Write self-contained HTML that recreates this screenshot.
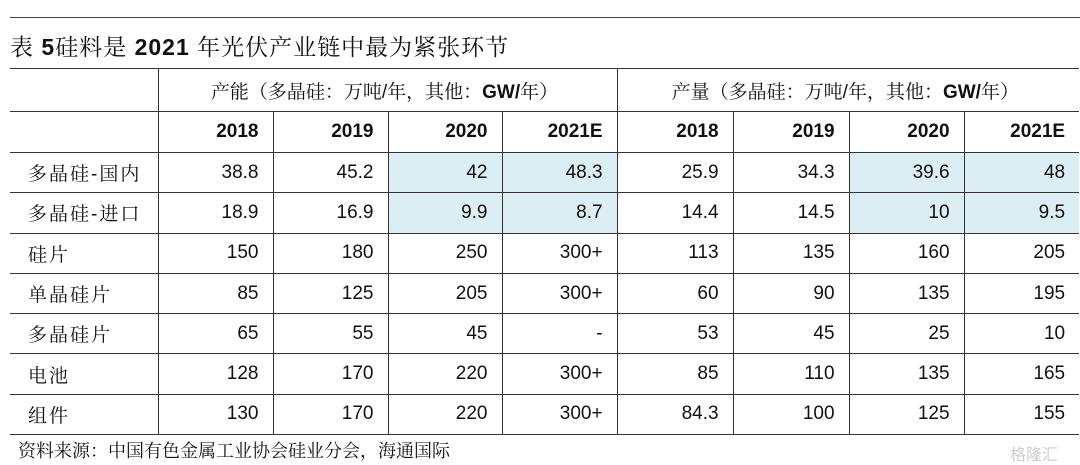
<!DOCTYPE html>
<html><head><meta charset="utf-8"><style>
body{margin:0;width:1080px;height:465px;background:#fff;overflow:hidden;position:relative;font-family:"Liberation Sans","Noto Sans CJK SC",sans-serif;color:#111}
.top{position:absolute;left:10px;top:17px;width:1070px;height:0;border-top:1.5px solid #444}
.title{position:absolute;left:10px;top:29px;font-size:23px;font-family:"Liberation Sans","Noto Serif CJK SC",serif;letter-spacing:1px}
.title b{font-family:"Liberation Sans",sans-serif}
table{position:absolute;left:10px;top:68px;border-collapse:collapse;table-layout:fixed;width:1069px}
td{border:1.5px solid #333;height:39.3px;padding:0 14px 0 8px;font-size:19px;text-align:right;white-space:nowrap}
tr td:first-child{border-left:none;text-align:left;padding-left:18px;font-family:"Liberation Sans","Noto Serif CJK SC",serif;letter-spacing:2px}
tr td:last-child{border-right:none}
.h1 td{height:42px;text-align:center;font-family:"Liberation Sans","Noto Serif CJK SC",serif}
.h1 td b{font-family:"Liberation Sans",sans-serif}
.h2 td{font-weight:bold;height:40px}
.s{background:#dbeef4}
.foot{position:absolute;left:18px;top:437px;font-size:18px;font-family:"Liberation Sans","Noto Serif CJK SC",serif}
.wm{position:absolute;left:1010px;top:441px;font-size:16px;color:#ccc}
</style></head><body>
<div class="top"></div>
<div class="title">表 <b>5</b>硅料是 <b>2021</b> 年光伏产业链中最为紧张环节</div>
<table>
<colgroup><col style="width:148px"><col style="width:115px"><col style="width:115px"><col style="width:114px"><col style="width:115px"><col style="width:116px"><col style="width:116px"><col style="width:115px"><col style="width:115px"></colgroup>
<tr class="h1"><td></td><td colspan="4">产能（多晶硅：万吨/年，其他：<b>GW/</b>年）</td><td colspan="4">产量（多晶硅：万吨/年，其他：<b>GW/</b>年）</td></tr>
<tr class="h2"><td></td><td>2018</td><td>2019</td><td>2020</td><td>2021E</td><td>2018</td><td>2019</td><td>2020</td><td>2021E</td></tr>
<tr><td>多晶硅-国内</td><td>38.8</td><td>45.2</td><td class="s">42</td><td class="s">48.3</td><td>25.9</td><td>34.3</td><td class="s">39.6</td><td class="s">48</td></tr>
<tr><td>多晶硅-进口</td><td>18.9</td><td>16.9</td><td class="s">9.9</td><td class="s">8.7</td><td>14.4</td><td>14.5</td><td class="s">10</td><td class="s">9.5</td></tr>
<tr><td>硅片</td><td>150</td><td>180</td><td>250</td><td>300+</td><td>113</td><td>135</td><td>160</td><td>205</td></tr>
<tr><td>单晶硅片</td><td>85</td><td>125</td><td>205</td><td>300+</td><td>60</td><td>90</td><td>135</td><td>195</td></tr>
<tr><td>多晶硅片</td><td>65</td><td>55</td><td>45</td><td>-</td><td>53</td><td>45</td><td>25</td><td>10</td></tr>
<tr><td>电池</td><td>128</td><td>170</td><td>220</td><td>300+</td><td>85</td><td>110</td><td>135</td><td>165</td></tr>
<tr><td>组件</td><td>130</td><td>170</td><td>220</td><td>300+</td><td>84.3</td><td>100</td><td>125</td><td>155</td></tr>
</table>
<div class="foot">资料来源：中国有色金属工业协会硅业分会，海通国际</div>
<div class="wm">格隆汇</div>
</body></html>
